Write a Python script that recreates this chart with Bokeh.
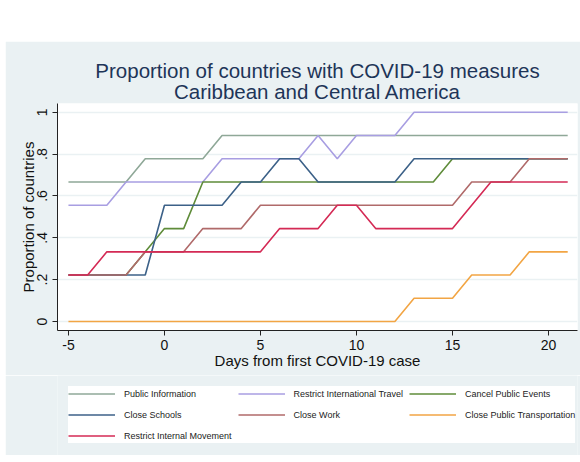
from bokeh.plotting import figure
from bokeh.models import (Range1d, FixedTicker, Title, Legend, LegendItem, Spacer)
from bokeh.layouts import column, row
from bokeh.embed import file_html
from bokeh.resources import INLINE

days = list(range(-5, 22))

public_information = [0.667, 0.667, 0.667, 0.667, 0.778, 0.778, 0.778, 0.778,
                      0.889, 0.889, 0.889, 0.889, 0.889, 0.889, 0.889, 0.889,
                      0.889, 0.889, 0.889, 0.889, 0.889, 0.889, 0.889, 0.889,
                      0.889, 0.889, 0.889]
restrict_international_travel = [0.556, 0.556, 0.556, 0.667, 0.667, 0.667, 0.667, 0.667,
                                 0.778, 0.778, 0.778, 0.778, 0.778, 0.889, 0.778, 0.889,
                                 0.889, 0.889, 1.0, 1.0, 1.0, 1.0, 1.0, 1.0,
                                 1.0, 1.0, 1.0]
cancel_public_events = [0.222, 0.222, 0.222, 0.222, 0.333, 0.444, 0.444, 0.667,
                        0.667, 0.667, 0.667, 0.667, 0.667, 0.667, 0.667, 0.667,
                        0.667, 0.667, 0.667, 0.667, 0.778, 0.778, 0.778, 0.778,
                        0.778, 0.778, 0.778]
close_schools = [0.222, 0.222, 0.222, 0.222, 0.222, 0.556, 0.556, 0.556,
                 0.556, 0.667, 0.667, 0.778, 0.778, 0.667, 0.667, 0.667,
                 0.667, 0.667, 0.778, 0.778, 0.778, 0.778, 0.778, 0.778,
                 0.778, 0.778, 0.778]
close_work = [0.222, 0.222, 0.222, 0.222, 0.333, 0.333, 0.333, 0.444,
              0.444, 0.444, 0.556, 0.556, 0.556, 0.556, 0.556, 0.556,
              0.556, 0.556, 0.556, 0.556, 0.556, 0.667, 0.667, 0.667,
              0.778, 0.778, 0.778]
close_public_transportation = [0.0, 0.0, 0.0, 0.0, 0.0, 0.0, 0.0, 0.0,
                               0.0, 0.0, 0.0, 0.0, 0.0, 0.0, 0.0, 0.0,
                               0.0, 0.0, 0.111, 0.111, 0.111, 0.222, 0.222, 0.222,
                               0.333, 0.333, 0.333]
restrict_internal_movement = [0.222, 0.222, 0.333, 0.333, 0.333, 0.333, 0.333, 0.333,
                              0.333, 0.333, 0.333, 0.444, 0.444, 0.444, 0.556, 0.556,
                              0.444, 0.444, 0.444, 0.444, 0.444, 0.556, 0.667, 0.667,
                              0.667, 0.667, 0.667]

series_names = ["Public Information", "Restrict International Travel", "Cancel Public Events",
                "Close Schools", "Close Work", "Close Public Transportation",
                "Restrict Internal Movement"]
series_values = [public_information, restrict_international_travel, cancel_public_events,
                 close_schools, close_work, close_public_transportation,
                 restrict_internal_movement]
series_colors = ["#8fa898", "#a89ee2", "#5f8c3a", "#3c6188", "#b06a6a", "#f2a544", "#d42a55"]

x_ticks = [-5, 0, 5, 10, 15, 20]
x_tick_labels = ["-5", "0", "5", "10", "15", "20"]
y_ticks = [0, 0.2, 0.4, 0.6, 0.8, 1]
y_tick_labels = ["0", ".2", ".4", ".6", ".8", "1"]

FONT = "Liberation Sans"
BG = "#eaf1f3"
W = 575

# main chart
p = figure(width=W, height=334, x_range=Range1d(-5.57, 21.51), y_range=Range1d(-0.043, 1.042),
           output_backend="svg", toolbar_location=None, title=None,
           min_border_left=52, min_border_right=3, min_border_top=62, min_border_bottom=45,
           background_fill_color="white", border_fill_color=BG, outline_line_color=None)

t2 = Title(text="Caribbean and Central America", align="center", text_font=FONT,
           text_font_size="20.5px", text_font_style="normal", text_color="#1e3558", standoff=2)
t1 = Title(text="Proportion of countries with COVID-19 measures", align="center", text_font=FONT,
           text_font_size="20.5px", text_font_style="normal", text_color="#1e3558", standoff=-10)
p.add_layout(t2, "above")
p.add_layout(t1, "above")

p.xgrid.grid_line_color = None
p.ygrid.grid_line_color = BG
p.ygrid.grid_line_width = 1.5
p.ygrid.ticker = FixedTicker(ticks=y_ticks)

p.xaxis.ticker = FixedTicker(ticks=x_ticks)
p.xaxis.major_label_overrides = {t: l for t, l in zip(x_ticks, x_tick_labels)}
p.yaxis.ticker = FixedTicker(ticks=y_ticks)
p.yaxis.major_label_overrides = {t: l for t, l in zip(y_ticks, y_tick_labels)}
p.yaxis.major_label_orientation = "vertical"

for ax in (p.xaxis, p.yaxis):
    ax.axis_line_color = "#222222"
    ax.major_tick_line_color = "#222222"
    ax.major_tick_out = 5
    ax.major_tick_in = 0
    ax.minor_tick_line_color = None
    ax.major_label_text_font = FONT
    ax.major_label_text_font_size = "14px"
    ax.major_label_text_color = "#111111"
    ax.axis_label_text_font = FONT
    ax.axis_label_text_font_size = "15px"
    ax.axis_label_text_font_style = "normal"
    ax.axis_label_text_color = "#111111"

p.xaxis.axis_label = "Days from first COVID-19 case"
p.xaxis.major_label_standoff = 4
p.xaxis.axis_label_standoff = -1
p.yaxis.axis_label = "Proportion of countries"
p.yaxis.major_label_standoff = 5
p.yaxis.axis_label_standoff = -2

for name, vals, col in zip(series_names, series_values, series_colors):
    p.line(days, vals, line_color=col, line_width=1.6)

# legend panel: same side borders as the chart (column aligns them); white legend box inside
lg = figure(width=W, height=80, x_range=Range1d(100, 101), y_range=Range1d(100, 101),
            output_backend="svg", toolbar_location=None, title=None,
            x_axis_location=None, y_axis_location=None,
            min_border_left=52, min_border_right=3, min_border_top=0, min_border_bottom=0,
            background_fill_color=BG, border_fill_color=BG, outline_line_color=None)
lg.xgrid.grid_line_color = None
lg.ygrid.grid_line_color = None

items = []
for name, vals, col in zip(series_names, series_values, series_colors):
    r = lg.line(days, vals, line_color=col, line_width=1.6)
    items.append(LegendItem(label=name, renderers=[r]))

legend = Legend(items=items, orientation="horizontal", ncols=3, location=(11, 12),
                label_text_font=FONT, label_text_font_size="9px", label_text_color="#222222",
                glyph_width=47, glyph_height=15, label_height=15, label_standoff=9,
                spacing=6, padding=5, margin=0, border_line_color=None,
                background_fill_color="white", background_fill_alpha=1.0)
lg.add_layout(legend, "center")

layout = row(Spacer(width=5, height=455),
             column(Spacer(width=W, height=41), p, lg))

open("out.html", "w").write(file_html(layout, INLINE))
